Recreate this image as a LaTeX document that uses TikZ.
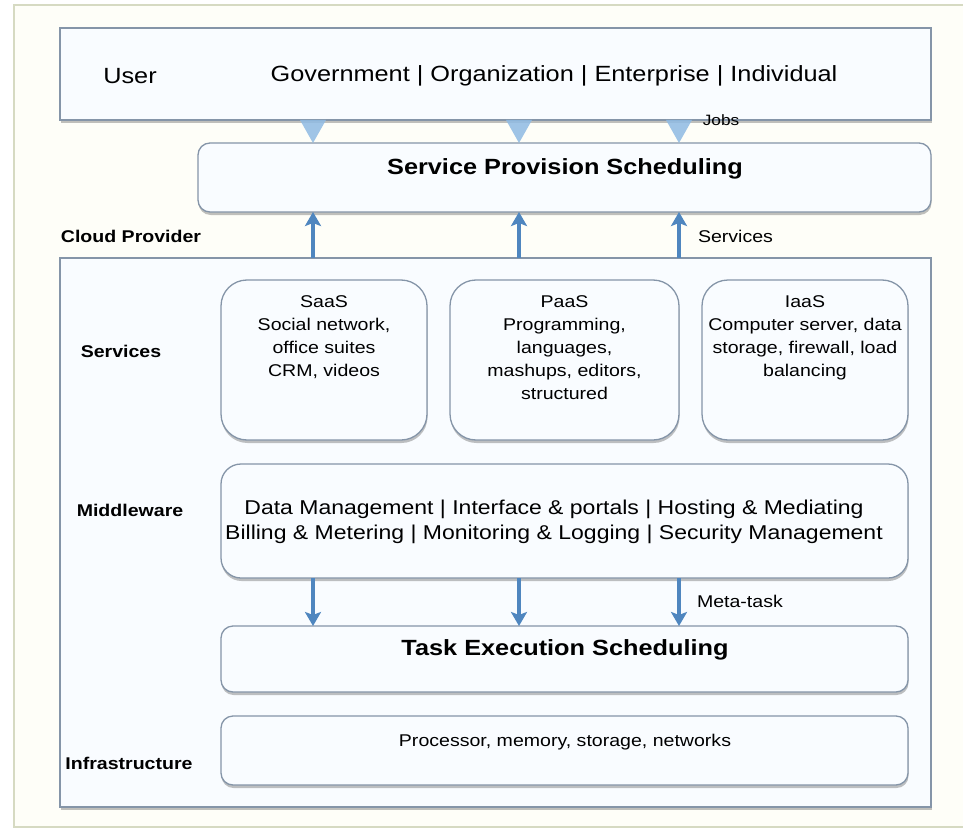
\documentclass[tikz,border=0pt]{standalone}
\usepackage{fontspec}
\setmainfont[FakeStretch=1.15]{Liberation Sans}
\usetikzlibrary{arrows.meta,shadows}
\definecolor{frameol}{HTML}{D6DAC2}
\definecolor{bgcream}{HTML}{FEFEF8}
\definecolor{boxline}{HTML}{8595A8}
\definecolor{boxfill}{HTML}{F9FCFF}
\definecolor{arrblue}{HTML}{4F86BF}
\definecolor{jobblue}{HTML}{8FBBE3}
\begin{document}
\begin{tikzpicture}[x=1pt,y=-1pt,
  every node/.style={inner sep=0pt, outer sep=0pt},
  box/.style={draw=boxline, line width=1.3pt, fill=boxfill,
    drop shadow={shadow xshift=0.5pt, shadow yshift=-3pt, opacity=0.35, fill=black!70}},
  sqbox/.style={box},
  rbox/.style={box, rounded corners=12pt},
  svcbox/.style={box, rounded corners=26pt},
  upar/.style={draw=arrblue, line width=3.2pt, -{Stealth[length=14pt,width=16pt,inset=3pt]}},
  jobar/.style={draw=none, fill=jobblue, fill opacity=0.85},
  side/.style={font=\fontsize{17}{20}\selectfont\bfseries},
  small/.style={font=\fontsize{17}{20}\selectfont},
  title/.style={font=\fontsize{22}{26}\selectfont\bfseries},
  body/.style={font=\fontsize{17}{23}\selectfont, align=center},
  mw/.style={font=\fontsize{20}{25}\selectfont, align=center}]
\useasboundingbox (0,0) rectangle (963,829);
\fill[white] (0,0) rectangle (963,829);
\begin{scope}
\clip (0,0) rectangle (963,829);
\draw[frameol, fill=bgcream, line width=2pt] (14,5) rectangle (990,827);
\end{scope}

% boxes
\node[sqbox, minimum width=871pt, minimum height=92pt] (user) at (495.5,74) {};
\node[font=\fontsize{22}{26}\selectfont] (usertxt) at (130,76) {User};
\node[font=\fontsize{22}{26}\selectfont] (groups) at (554,76) {Government | Organization | Enterprise | Individual};

\node[rbox, minimum width=733pt, minimum height=69pt] (sps) at (564.5,177.5) {};
\node[title] (spstxt) at (565,169) {Service Provision Scheduling};

\node[sqbox, minimum width=871pt, minimum height=549pt] (cloud) at (495.5,532.5) {};
\node[side] (cloudlbl) at (131,236) {Cloud Provider};

\node[svcbox, minimum width=206pt, minimum height=160pt] (saas) at (324,360) {};
\node[body, anchor=north] (saastxt) at (324,296) {SaaS\\Social network,\\office suites\\CRM, videos};
\node[svcbox, minimum width=229pt, minimum height=160pt] (paas) at (564.5,360) {};
\node[body, anchor=north] (paastxt) at (564.5,296) {PaaS\\Programming,\\languages,\\mashups, editors,\\structured};
\node[svcbox, minimum width=206pt, minimum height=160pt] (iaas) at (805,360) {};
\node[body, anchor=north] (iaastxt) at (805,296) {IaaS\\Computer server, data\\storage, firewall, load\\balancing};
\node[side] (svclbl) at (121,351) {Services};

\node[rbox, rounded corners=20pt, minimum width=687pt, minimum height=114pt] (mware) at (564.5,521) {};
\node[mw] (mwtxt) at (554,522) {Data Management | Interface \& portals | Hosting \& Mediating\\Billing \& Metering | Monitoring \& Logging | Security Management};
\node[side] (mwlbl) at (130,510) {Middleware};

\node[rbox, minimum width=687pt, minimum height=66pt] (tes) at (564.5,659) {};
\node[title] (testxt) at (565,650) {Task Execution Scheduling};

\node[rbox, minimum width=687pt, minimum height=69pt] (infra) at (564.5,750.5) {};
\node[body] (infratxt) at (565,742) {Processor, memory, storage, networks};
\node[side] (infralbl) at (129,763) {Infrastructure};

% jobs wedges
\foreach \xx in {313,519,679}{
  \fill[jobar] ([xshift=-13pt]user.south -| \xx,0) -- ([xshift=13pt]user.south -| \xx,0) -- (sps.north -| \xx,0) -- cycle;
}
\node[font=\fontsize{15}{18}\selectfont] (jobs) at (721,120) {Jobs};

% services arrows
\foreach \xx in {313,519,679}{
  \draw[upar] (cloud.north -| \xx,0) -- (sps.south -| \xx,0);
}
\node[small, anchor=west] (servlbl) at (698,236) {Services};

% meta-task arrows
\foreach \xx in {313,519,679}{
  \draw[upar] (mware.south -| \xx,0) -- (tes.north -| \xx,0);
}
\node[small, anchor=west] (metalbl) at (697,601) {Meta-task};
\end{tikzpicture}
\end{document}
